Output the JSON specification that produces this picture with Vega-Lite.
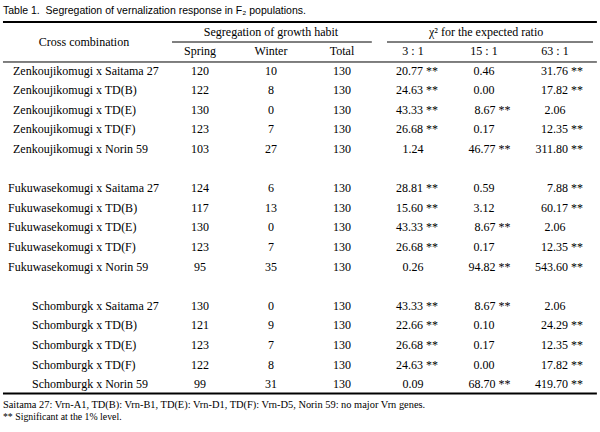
{
  "$schema": "https://vega.github.io/schema/vega-lite/v6.json",
  "width": 600,
  "height": 432,
  "padding": 0,
  "autosize": {"type": "fit", "contains": "padding"},
  "background": "#ffffff",
  "config": {"view": {"stroke": null}, "text": {"font": "Liberation Serif", "fontSize": 12, "color": "#000000", "baseline": "middle"}},
  "datasets": {
    "rows": [
      {"r": 0, "group": "Zenkoujikomugi", "cross": "Zenkoujikomugi x Saitama 27", "spring": 120, "winter": 10, "total": 130, "ratio3": "20.77 **", "ratio15": "0.46", "ratio63": "31.76 **"},
      {"r": 1, "group": "Zenkoujikomugi", "cross": "Zenkoujikomugi x TD(B)", "spring": 122, "winter": 8, "total": 130, "ratio3": "24.63 **", "ratio15": "0.00", "ratio63": "17.82 **"},
      {"r": 2, "group": "Zenkoujikomugi", "cross": "Zenkoujikomugi x TD(E)", "spring": 130, "winter": 0, "total": 130, "ratio3": "43.33 **", "ratio15": "8.67 **", "ratio63": "2.06"},
      {"r": 3, "group": "Zenkoujikomugi", "cross": "Zenkoujikomugi x TD(F)", "spring": 123, "winter": 7, "total": 130, "ratio3": "26.68 **", "ratio15": "0.17", "ratio63": "12.35 **"},
      {"r": 4, "group": "Zenkoujikomugi", "cross": "Zenkoujikomugi x Norin 59", "spring": 103, "winter": 27, "total": 130, "ratio3": "1.24", "ratio15": "46.77 **", "ratio63": "311.80 **"},
      {"r": 6, "group": "Fukuwasekomugi", "cross": "Fukuwasekomugi x Saitama 27", "spring": 124, "winter": 6, "total": 130, "ratio3": "28.81 **", "ratio15": "0.59", "ratio63": "7.88 **"},
      {"r": 7, "group": "Fukuwasekomugi", "cross": "Fukuwasekomugi x TD(B)", "spring": 117, "winter": 13, "total": 130, "ratio3": "15.60 **", "ratio15": "3.12", "ratio63": "60.17 **"},
      {"r": 8, "group": "Fukuwasekomugi", "cross": "Fukuwasekomugi x TD(E)", "spring": 130, "winter": 0, "total": 130, "ratio3": "43.33 **", "ratio15": "8.67 **", "ratio63": "2.06"},
      {"r": 9, "group": "Fukuwasekomugi", "cross": "Fukuwasekomugi x TD(F)", "spring": 123, "winter": 7, "total": 130, "ratio3": "26.68 **", "ratio15": "0.17", "ratio63": "12.35 **"},
      {"r": 10, "group": "Fukuwasekomugi", "cross": "Fukuwasekomugi x Norin 59", "spring": 95, "winter": 35, "total": 130, "ratio3": "0.26", "ratio15": "94.82 **", "ratio63": "543.60 **"},
      {"r": 12, "group": "Schomburgk", "cross": "Schomburgk x Saitama 27", "spring": 130, "winter": 0, "total": 130, "ratio3": "43.33 **", "ratio15": "8.67 **", "ratio63": "2.06"},
      {"r": 13, "group": "Schomburgk", "cross": "Schomburgk x TD(B)", "spring": 121, "winter": 9, "total": 130, "ratio3": "22.66 **", "ratio15": "0.10", "ratio63": "24.29 **"},
      {"r": 14, "group": "Schomburgk", "cross": "Schomburgk x TD(E)", "spring": 123, "winter": 7, "total": 130, "ratio3": "26.68 **", "ratio15": "0.17", "ratio63": "12.35 **"},
      {"r": 15, "group": "Schomburgk", "cross": "Schomburgk x TD(F)", "spring": 122, "winter": 8, "total": 130, "ratio3": "24.63 **", "ratio15": "0.00", "ratio63": "17.82 **"},
      {"r": 16, "group": "Schomburgk", "cross": "Schomburgk x Norin 59", "spring": 99, "winter": 31, "total": 130, "ratio3": "0.09", "ratio15": "68.70 **", "ratio63": "419.70 **"}
    ]
  },
  "layer": [
    {
      "data": {"values": [{"t": "Table 1.\u00a0 Segregation of vernalization response in F₂ populations."}]},
      "mark": {"type": "text", "align": "left", "font": "Liberation Sans", "fontSize": 10.5},
      "encoding": {
        "x": {"datum": -1.775, "type": "quantitative", "scale": {"domain": [0, 6], "range": [129, 555], "zero": false, "nice": false}, "axis": null},
        "y": {"datum": -3.04, "type": "quantitative", "scale": {"domain": [0, 16], "range": [70.5, 384.1], "zero": false, "nice": false}, "axis": null},
        "text": {"field": "t"}
      }
    },
    {
      "data": {"values": [{}]},
      "mark": {"type": "rule", "strokeWidth": 2, "color": "#000000"},
      "encoding": {
        "x": {"datum": -1.775, "type": "quantitative", "scale": {"domain": [0, 6], "range": [129, 555], "zero": false, "nice": false}, "axis": null},
        "x2": {"datum": 6.59},
        "y": {"datum": -2.47, "type": "quantitative", "scale": {"domain": [0, 16], "range": [70.5, 384.1], "zero": false, "nice": false}, "axis": null}
      }
    },
    {
      "data": {"values": [{}]},
      "mark": {"type": "rule", "strokeWidth": 1, "color": "#000000"},
      "encoding": {
        "x": {"datum": 0.606, "type": "quantitative", "scale": {"domain": [0, 6], "range": [129, 555], "zero": false, "nice": false}, "axis": null},
        "x2": {"datum": 3.42},
        "y": {"datum": -1.454, "type": "quantitative", "scale": {"domain": [0, 16], "range": [70.5, 384.1], "zero": false, "nice": false}, "axis": null}
      }
    },
    {
      "data": {"values": [{}]},
      "mark": {"type": "rule", "strokeWidth": 1, "color": "#000000"},
      "encoding": {
        "x": {"datum": 3.634, "type": "quantitative", "scale": {"domain": [0, 6], "range": [129, 555], "zero": false, "nice": false}, "axis": null},
        "x2": {"datum": 6.535},
        "y": {"datum": -1.454, "type": "quantitative", "scale": {"domain": [0, 16], "range": [70.5, 384.1], "zero": false, "nice": false}, "axis": null}
      }
    },
    {
      "data": {"values": [{}]},
      "mark": {"type": "rule", "strokeWidth": 1, "color": "#000000"},
      "encoding": {
        "x": {"datum": -1.775, "type": "quantitative", "scale": {"domain": [0, 6], "range": [129, 555], "zero": false, "nice": false}, "axis": null},
        "x2": {"datum": 6.59},
        "y": {"datum": -0.434, "type": "quantitative", "scale": {"domain": [0, 16], "range": [70.5, 384.1], "zero": false, "nice": false}, "axis": null}
      }
    },
    {
      "data": {"values": [{}]},
      "mark": {"type": "rule", "strokeWidth": 2, "color": "#000000"},
      "encoding": {
        "x": {"datum": -1.775, "type": "quantitative", "scale": {"domain": [0, 6], "range": [129, 555], "zero": false, "nice": false}, "axis": null},
        "x2": {"datum": 6.59},
        "y": {"datum": 16.48, "type": "quantitative", "scale": {"domain": [0, 16], "range": [70.5, 384.1], "zero": false, "nice": false}, "axis": null}
      }
    },
    {
      "data": {"values": [{"t": "Cross combination"}]},
      "mark": {"type": "text", "align": "center"},
      "encoding": {
        "x": {"datum": -0.634, "type": "quantitative", "scale": {"domain": [0, 6], "range": [129, 555], "zero": false, "nice": false}, "axis": null},
        "y": {"datum": -1.454, "type": "quantitative", "scale": {"domain": [0, 16], "range": [70.5, 384.1], "zero": false, "nice": false}, "axis": null},
        "text": {"field": "t"}
      }
    },
    {
      "data": {"values": [{"t": "Segregation of growth habit"}]},
      "mark": {"type": "text", "align": "center"},
      "encoding": {
        "x": {"datum": 2.0, "type": "quantitative", "scale": {"domain": [0, 6], "range": [129, 555], "zero": false, "nice": false}, "axis": null},
        "y": {"datum": -1.98, "type": "quantitative", "scale": {"domain": [0, 16], "range": [70.5, 384.1], "zero": false, "nice": false}, "axis": null},
        "text": {"field": "t"}
      }
    },
    {
      "data": {"values": [{"t": "χ² for the expected ratio"}]},
      "mark": {"type": "text", "align": "center"},
      "encoding": {
        "x": {"datum": 5.03, "type": "quantitative", "scale": {"domain": [0, 6], "range": [129, 555], "zero": false, "nice": false}, "axis": null},
        "y": {"datum": -1.98, "type": "quantitative", "scale": {"domain": [0, 16], "range": [70.5, 384.1], "zero": false, "nice": false}, "axis": null},
        "text": {"field": "t"}
      }
    },
    {
      "data": {"values": [{"h": "Spring"}, {"h": "Winter"}, {"h": "Total"}, {"h": "3 : 1"}, {"h": "15 : 1"}, {"h": "63 : 1"}]},
      "mark": {"type": "text", "align": "center"},
      "encoding": {
        "x": {"field": "h", "type": "nominal", "sort": null, "scale": {"type": "point", "domain": ["Spring", "Winter", "Total", "3 : 1", "15 : 1", "63 : 1"], "range": [200, 555], "padding": 0}, "axis": null},
        "y": {"datum": -0.995, "type": "quantitative", "scale": {"domain": [0, 16], "range": [70.5, 384.1], "zero": false, "nice": false}, "axis": null},
        "text": {"field": "h"}
      }
    },
    {
      "data": {"name": "rows"},
      "transform": [{"filter": "datum.group == 'Zenkoujikomugi'"}],
      "mark": {"type": "text", "align": "left"},
      "encoding": {
        "x": {"datum": -1.634, "type": "quantitative", "scale": {"domain": [0, 6], "range": [129, 555], "zero": false, "nice": false}, "axis": null},
        "y": {"field": "r", "type": "quantitative", "scale": {"domain": [0, 16], "range": [70.5, 384.1], "zero": false, "nice": false}, "axis": null},
        "text": {"field": "cross"}
      }
    },
    {
      "data": {"name": "rows"},
      "transform": [{"filter": "datum.group == 'Fukuwasekomugi'"}],
      "mark": {"type": "text", "align": "left"},
      "encoding": {
        "x": {"datum": -1.704, "type": "quantitative", "scale": {"domain": [0, 6], "range": [129, 555], "zero": false, "nice": false}, "axis": null},
        "y": {"field": "r", "type": "quantitative", "scale": {"domain": [0, 16], "range": [70.5, 384.1], "zero": false, "nice": false}, "axis": null},
        "text": {"field": "cross"}
      }
    },
    {
      "data": {"name": "rows"},
      "transform": [{"filter": "datum.group == 'Schomburgk'"}],
      "mark": {"type": "text", "align": "left"},
      "encoding": {
        "x": {"datum": -1.366, "type": "quantitative", "scale": {"domain": [0, 6], "range": [129, 555], "zero": false, "nice": false}, "axis": null},
        "y": {"field": "r", "type": "quantitative", "scale": {"domain": [0, 16], "range": [70.5, 384.1], "zero": false, "nice": false}, "axis": null},
        "text": {"field": "cross"}
      }
    },
    {
      "data": {"name": "rows"},
      "transform": [{"fold": ["spring", "winter", "total"]}],
      "mark": {"type": "text", "align": "center"},
      "encoding": {
        "x": {"field": "key", "type": "nominal", "scale": {"type": "point", "domain": ["spring", "winter", "total"], "range": [200, 342], "padding": 0}, "axis": null},
        "y": {"field": "r", "type": "quantitative", "scale": {"domain": [0, 16], "range": [70.5, 384.1], "zero": false, "nice": false}, "axis": null},
        "text": {"field": "value"}
      }
    },
    {
      "data": {"name": "rows"},
      "transform": [{"fold": ["ratio3", "ratio15", "ratio63"]}, {"filter": "indexof(datum.value, '*') < 0"}],
      "mark": {"type": "text", "align": "center"},
      "encoding": {
        "x": {"field": "key", "type": "nominal", "scale": {"type": "point", "domain": ["ratio3", "ratio15", "ratio63"], "range": [413, 555], "padding": 0}, "axis": null},
        "y": {"field": "r", "type": "quantitative", "scale": {"domain": [0, 16], "range": [70.5, 384.1], "zero": false, "nice": false}, "axis": null},
        "text": {"field": "value"}
      }
    },
    {
      "data": {"name": "rows"},
      "transform": [{"fold": ["ratio3", "ratio15", "ratio63"]}, {"filter": "indexof(datum.value, '*') >= 0"}],
      "mark": {"type": "text", "align": "right"},
      "encoding": {
        "x": {"field": "key", "type": "nominal", "scale": {"type": "point", "domain": ["ratio3", "ratio15", "ratio63"], "range": [438, 583], "padding": 0}, "axis": null},
        "y": {"field": "r", "type": "quantitative", "scale": {"domain": [0, 16], "range": [70.5, 384.1], "zero": false, "nice": false}, "axis": null},
        "text": {"field": "value"}
      }
    },
    {
      "data": {"values": [{"t": "Saitama 27: Vrn-A1, TD(B): Vrn-B1, TD(E): Vrn-D1, TD(F): Vrn-D5, Norin 59: no major Vrn genes."}]},
      "mark": {"type": "text", "align": "left", "fontSize": 10.4},
      "encoding": {
        "x": {"datum": -1.775, "type": "quantitative", "scale": {"domain": [0, 6], "range": [129, 555], "zero": false, "nice": false}, "axis": null},
        "y": {"datum": 17.07, "type": "quantitative", "scale": {"domain": [0, 16], "range": [70.5, 384.1], "zero": false, "nice": false}, "axis": null},
        "text": {"field": "t"}
      }
    },
    {
      "data": {"values": [{"t": "** Significant at the 1% level."}]},
      "mark": {"type": "text", "align": "left", "fontSize": 9.8},
      "encoding": {
        "x": {"datum": -1.775, "type": "quantitative", "scale": {"domain": [0, 6], "range": [129, 555], "zero": false, "nice": false}, "axis": null},
        "y": {"datum": 17.68, "type": "quantitative", "scale": {"domain": [0, 16], "range": [70.5, 384.1], "zero": false, "nice": false}, "axis": null},
        "text": {"field": "t"}
      }
    }
  ],
  "resolve": {"scale": {"x": "independent", "y": "independent"}}
}
